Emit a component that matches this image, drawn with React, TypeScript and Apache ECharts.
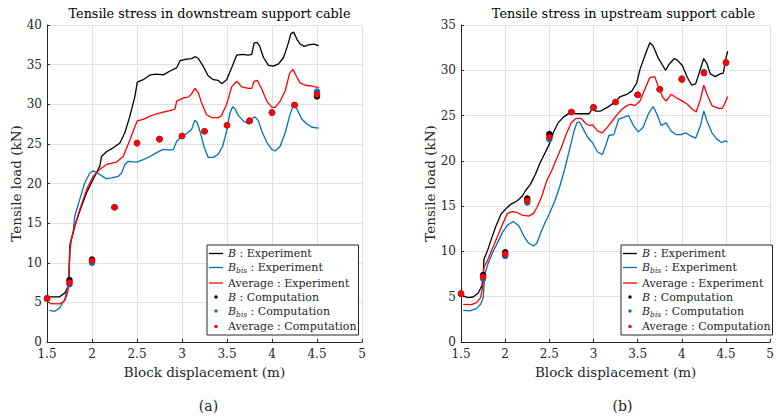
import React, { useEffect, useRef } from "react";
import * as echarts from "echarts";

// ---- Data: downstream support cable (a) ----
const downB = [[1.53,5.7],[1.64,5.7],[1.70,6.2],[1.734,7.0],[1.745,7.9],[1.752,12.1],[1.79,13.8],[1.827,15.3],[1.882,17.1],[1.938,18.8],[2.012,20.5],[2.087,22.2],[2.105,23.4],[2.161,24.0],[2.235,24.5],[2.31,25.1],[2.365,26.4],[2.421,28.5],[2.477,31.0],[2.503,32.8],[2.569,33.1],[2.644,33.7],[2.718,33.8],[2.792,33.7],[2.867,34.2],[2.941,34.6],[2.978,35.5],[3.05,35.7],[3.106,35.75],[3.143,36.0],[3.18,35.8],[3.236,34.8],[3.29,33.6],[3.348,33.1],[3.403,33.0],[3.441,32.6],[3.496,33.1],[3.552,34.6],[3.608,36.2],[3.664,36.3],[3.738,36.2],[3.775,36.3],[3.801,37.7],[3.831,37.8],[3.861,37.4],[3.905,35.9],[3.961,34.9],[4.017,34.8],[4.072,35.1],[4.128,35.9],[4.173,37.4],[4.21,38.9],[4.24,39.1],[4.277,38.2],[4.313,37.6],[4.359,37.3],[4.407,37.5],[4.463,37.6],[4.519,37.4]];
const downBbis = [[1.53,4.0],[1.585,3.87],[1.641,4.3],[1.697,5.4],[1.734,7.1],[1.752,10.4],[1.76,12.7],[1.79,13.8],[1.808,15.9],[1.864,18.0],[1.92,20.1],[1.975,21.3],[2.012,21.6],[2.05,21.4],[2.105,21.0],[2.161,20.6],[2.217,20.7],[2.291,20.9],[2.328,21.3],[2.365,22.4],[2.402,22.8],[2.495,22.7],[2.569,23.0],[2.644,23.4],[2.718,23.9],[2.792,24.3],[2.867,24.2],[2.904,24.3],[2.941,25.3],[3.0,26.0],[3.052,26.3],[3.106,26.8],[3.143,28.0],[3.169,27.7],[3.199,26.6],[3.243,24.7],[3.29,23.3],[3.348,23.3],[3.403,23.7],[3.452,24.7],[3.496,26.6],[3.533,28.9],[3.563,29.7],[3.59,29.4],[3.625,28.6],[3.682,27.9],[3.738,27.5],[3.775,28.2],[3.812,28.4],[3.849,27.9],[3.887,26.6],[3.942,25.2],[3.998,24.3],[4.035,24.1],[4.091,24.7],[4.147,26.4],[4.195,28.5],[4.24,30.0],[4.277,29.4],[4.333,28.1],[4.389,27.5],[4.444,27.1],[4.519,27.0]];
const downAvg = [[1.53,4.83],[1.641,4.8],[1.697,5.2],[1.734,6.4],[1.745,7.9],[1.752,11.3],[1.771,12.9],[1.808,14.6],[1.864,16.7],[1.938,19.2],[2.012,20.9],[2.087,21.8],[2.161,22.4],[2.272,22.7],[2.347,23.4],[2.421,25.5],[2.477,27.2],[2.503,27.9],[2.569,28.1],[2.644,28.5],[2.718,28.8],[2.792,29.0],[2.867,29.2],[2.922,29.4],[2.941,30.4],[3.015,30.8],[3.069,30.9],[3.106,31.3],[3.143,32.0],[3.18,31.5],[3.217,30.2],[3.272,28.7],[3.329,28.3],[3.403,28.3],[3.441,28.6],[3.496,30.0],[3.552,32.2],[3.608,32.9],[3.664,32.2],[3.738,32.0],[3.775,32.0],[3.801,32.9],[3.838,33.0],[3.887,31.9],[3.942,30.4],[3.998,29.6],[4.035,29.6],[4.091,30.4],[4.147,31.7],[4.195,33.9],[4.232,34.4],[4.277,33.4],[4.313,32.7],[4.37,32.4],[4.444,32.3],[4.519,32.1]];

// ---- Data: upstream support cable (b) ----
const upB = [[1.526,5.08],[1.581,4.9],[1.637,4.97],[1.693,5.38],[1.737,6.2],[1.752,7.3],[1.759,9.1],[1.804,10.2],[1.841,11.3],[1.896,12.8],[1.952,14.1],[2.007,14.7],[2.063,15.2],[2.137,15.6],[2.193,16.1],[2.23,16.7],[2.285,17.4],[2.341,18.5],[2.396,19.8],[2.452,20.9],[2.5,21.85],[2.544,23.1],[2.6,24.2],[2.656,24.8],[2.73,25.3],[2.804,25.2],[2.878,25.2],[2.952,25.2],[2.981,25.7],[3.026,25.5],[3.081,25.5],[3.156,25.9],[3.23,26.4],[3.304,27.1],[3.378,27.35],[3.433,27.7],[3.489,28.6],[3.526,30.1],[3.581,31.6],[3.637,33.05],[3.674,32.7],[3.73,31.4],[3.785,30.5],[3.815,30.0],[3.859,30.7],[3.915,31.3],[3.952,31.1],[4.007,30.5],[4.063,29.2],[4.111,28.35],[4.156,28.5],[4.193,29.6],[4.248,31.3],[4.285,30.7],[4.322,29.6],[4.378,29.3],[4.433,29.6],[4.47,29.7],[4.496,31.2],[4.519,32.1]];
const upBbis = [[1.526,3.5],[1.6,3.43],[1.674,3.68],[1.722,4.16],[1.752,4.9],[1.767,7.3],[1.804,8.6],[1.859,9.9],[1.915,11.0],[1.97,12.1],[2.026,12.9],[2.093,13.3],[2.156,12.8],[2.211,11.7],[2.267,10.9],[2.322,10.6],[2.359,10.9],[2.404,12.1],[2.452,13.2],[2.507,14.3],[2.563,15.6],[2.619,17.2],[2.674,19.1],[2.73,21.3],[2.774,23.1],[2.811,24.2],[2.841,24.3],[2.885,23.5],[2.933,22.6],[2.989,22.0],[3.044,21.0],[3.1,20.7],[3.137,21.65],[3.174,22.8],[3.23,22.9],[3.285,24.6],[3.341,24.8],[3.396,25.0],[3.452,23.9],[3.507,23.2],[3.563,23.7],[3.619,25.15],[3.674,26.0],[3.719,25.15],[3.767,23.9],[3.822,24.2],[3.878,23.3],[3.933,22.9],[3.989,22.9],[4.044,23.1],[4.1,22.75],[4.156,22.5],[4.211,23.9],[4.248,25.5],[4.285,24.4],[4.341,23.1],[4.396,22.4],[4.452,22.0],[4.489,22.2],[4.519,22.1]];
const upAvg = [[1.526,4.16],[1.619,4.13],[1.674,4.35],[1.722,4.9],[1.748,6.2],[1.759,8.2],[1.804,9.1],[1.859,10.4],[1.915,11.7],[1.97,13.0],[2.026,14.2],[2.081,14.4],[2.137,14.3],[2.193,14.0],[2.267,13.9],[2.322,14.2],[2.359,14.85],[2.415,16.1],[2.47,17.8],[2.526,18.9],[2.581,20.2],[2.637,21.5],[2.693,23.0],[2.748,24.2],[2.804,24.7],[2.859,24.7],[2.915,24.1],[2.959,23.9],[2.989,24.0],[3.044,23.3],[3.1,23.1],[3.156,23.7],[3.211,24.4],[3.267,25.1],[3.322,25.7],[3.378,26.1],[3.415,26.25],[3.47,26.1],[3.526,26.6],[3.581,27.9],[3.637,29.2],[3.693,29.3],[3.73,28.3],[3.785,27.0],[3.822,26.6],[3.878,27.35],[3.933,27.0],[4.007,26.6],[4.063,26.25],[4.119,25.7],[4.163,25.4],[4.211,26.8],[4.248,28.35],[4.285,27.35],[4.341,26.1],[4.415,25.8],[4.459,25.8],[4.489,26.4],[4.519,27.1]];

// ---- Computation points ----
const compX = [1.5, 1.75, 2, 2.25, 2.5, 2.75, 3, 3.25, 3.5, 3.75, 4, 4.25, 4.5];
const downCompB = [5.5, 7.8, 10.4, 17.0, 25.1, 25.6, 26.0, 26.6, 27.35, 27.9, 28.95, 29.9, 31.0];
const downCompBbis = [5.5, 7.3, 10.0, 17.0, 25.1, 25.6, 26.0, 26.6, 27.35, 27.9, 28.95, 29.9, 31.6];
const downCompAvg = [5.5, 7.5, 10.25, 17.0, 25.1, 25.6, 26.0, 26.6, 27.35, 27.9, 28.95, 29.9, 31.25];
const upCompB = [5.34, 7.4, 9.9, 15.85, 22.95, 25.4, 25.9, 26.5, 27.3, 27.9, 29.0, 29.7, 30.85];
const upCompBbis = [5.34, 7.0, 9.5, 15.4, 22.4, 25.4, 25.9, 26.5, 27.3, 27.9, 29.1, 29.8, 30.85];
const upCompAvg = [5.34, 7.2, 9.7, 15.6, 22.6, 25.4, 25.9, 26.5, 27.3, 27.9, 29.0, 29.7, 30.85];

const titles = ["Tensile stress in downstream support cable", "Tensile stress in upstream support cable"];
const subLabels = ["(a)", "(b)"];
const yMaxes = [40, 35];
const names = ["B : Experiment", "Bbis : Experiment", "Average : Experiment", "B : Computation", "Bbis : Computation", "Average : Computation"];

const FONT = "DejaVu Serif";
const TXT = "#262626";
const BLACK = "#000000";
const BLUE = "#0072BD";
const RED = "#FF0000";
const DOT_ICON = "path://M0,0M14,10M5.3,5a1.7,1.7 0 1,0 3.4,0a1.7,1.7 0 1,0 -3.4,0z";
const LINE_ICON = "path://M0,0M14,10M0,4.35L14,4.35L14,5.65L0,5.65Z";

const zip = (xs: number[], ys: number[]) => xs.map((x, i) => [x, ys[i]]);

export default function App() {
  const ref = useRef<HTMLDivElement>(null);
  useEffect(() => {
    if (!ref.current) return;
    const chart = echarts.init(ref.current, null, { renderer: "svg" });
    const gridLefts = [47, 461];
    const gridW = 315;
    const lines = [[downB, downBbis, downAvg], [upB, upBbis, upAvg]];
    const dots = [[downCompB, downCompBbis, downCompAvg], [upCompB, upCompBbis, upCompAvg]];
    const colors = [BLACK, BLUE, RED];

    const series: any[] = [];
    [0, 1].forEach((g) => {
      lines[g].forEach((d, k) => {
        series.push({
          type: "line", name: names[k], xAxisIndex: g, yAxisIndex: g, data: d,
          symbol: "none", showSymbol: false, smooth: false, lineStyle: { color: colors[k], width: 1.3 },
          itemStyle: { color: colors[k] }, z: 2,
        });
      });
      dots[g].forEach((d, k) => {
        series.push({
          type: "scatter", name: names[k + 3], xAxisIndex: g, yAxisIndex: g, data: zip(compX, d),
          symbol: "circle", symbolSize: 6.5, itemStyle: { color: colors[k], opacity: 1 }, z: 3 + k,
        });
      });
    });

    const rich = {
      i: { fontFamily: FONT, fontStyle: "italic", fontSize: 11, color: TXT, lineHeight: 14 },
      s: { fontFamily: FONT, fontStyle: "italic", fontSize: 7.5, color: TXT, lineHeight: 9, verticalAlign: "bottom" },
      t: { fontFamily: FONT, fontSize: 11, color: TXT, lineHeight: 14 },
    };
    const fmt = (n: string) => {
      if (n.startsWith("Bbis")) return "{i|B}{s|bis}{t|" + n.slice(4) + "}";
      if (n.startsWith("B ")) return "{i|B}{t|" + n.slice(1) + "}";
      return "{t|" + n + "}";
    };
    const legendData = names.map((n, k) => ({ name: n, icon: k >= 3 ? DOT_ICON : LINE_ICON }));

    const option: any = {
      animation: false,
      backgroundColor: "#ffffff",
      textStyle: { fontFamily: FONT },
      title: [0, 1].map((g) => ({
        text: titles[g], left: gridLefts[g] + gridW / 2, top: 2, textAlign: "center",
        textStyle: { fontFamily: FONT, fontSize: 12.8, fontWeight: "normal", color: "#000" },
      })),
      legend: [0, 1].map((g) => ({
        data: legendData, orient: "vertical", left: g === 0 ? 207 : 621, top: 245,
        itemWidth: 14, itemHeight: 10, itemGap: 3, padding: [3, 2, 3, 2],
        backgroundColor: "#ffffff", borderColor: "#262626", borderWidth: 1, borderRadius: 0,
        formatter: fmt, selectedMode: false,
        textStyle: { fontFamily: FONT, fontSize: 11, color: TXT, rich },
      })),
      grid: [0, 1].map((g) => ({ left: gridLefts[g], top: 25, width: gridW, height: 317, containLabel: false })),
      xAxis: [0, 1].map((g) => ({
        type: "value", gridIndex: g, min: 1.5, max: 5, interval: 0.5,
        name: "Block displacement (m)", nameLocation: "middle", nameGap: 20,
        nameTextStyle: { fontFamily: FONT, fontSize: 13.5, color: TXT },
        axisLine: { show: true, onZero: false, lineStyle: { color: TXT, width: 1 } },
        axisTick: { show: true, inside: true, length: 3, lineStyle: { color: TXT } },
        axisLabel: { fontFamily: FONT, fontSize: 12, color: TXT, margin: 6 },
        splitLine: { show: true, lineStyle: { color: "#e0e0e0", width: 1 } },
      })),
      yAxis: [0, 1].map((g) => ({
        type: "value", gridIndex: g, min: 0, max: yMaxes[g], interval: 5,
        name: "Tensile load (kN)", nameLocation: "middle", nameGap: 24,
        nameTextStyle: { fontFamily: FONT, fontSize: 13.5, color: TXT },
        axisLine: { show: true, onZero: false, lineStyle: { color: TXT, width: 1 } },
        axisTick: { show: true, inside: true, length: 3, lineStyle: { color: TXT } },
        axisLabel: { fontFamily: FONT, fontSize: 12, color: TXT, margin: 5 },
        splitLine: { show: true, lineStyle: { color: "#e0e0e0", width: 1 } },
      })),
      graphic: [0, 1].map((g) => ({
        type: "text", x: gridLefts[g] + gridW / 2 + 4, y: 406,
        style: { text: subLabels[g], fontFamily: FONT, fontSize: 14, fill: TXT, textAlign: "center", textVerticalAlign: "middle" },
      })),
      series,
    };
    chart.setOption(option);
    return () => chart.dispose();
  }, []);
  return <div ref={ref} style={{ position: "absolute", left: 0, top: 0, width: 777, height: 417 }} />;
}
